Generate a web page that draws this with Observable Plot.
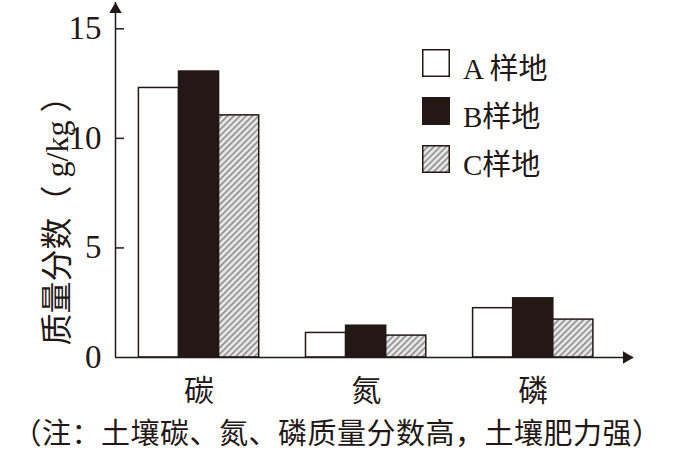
<!DOCTYPE html>
<html>
<head>
<meta charset="utf-8">
<script src="https://cdn.jsdelivr.net/npm/d3@7"></script>
<script src="https://cdn.jsdelivr.net/npm/@observablehq/plot@0.6"></script>
<style>
  body { margin: 0; background: #fff; }
  #wrap { position: relative; width: 674px; height: 451px; overflow: hidden; background: #fff; }
  #legend { position: absolute; left: 422px; top: 49px; color: #231815;
            font-family: "Liberation Serif", "Noto Sans CJK SC", serif; font-size: 29px; }
  #legend .row { display: flex; align-items: center; height: 28px; margin-bottom: 20px; white-space: pre; }
  #legend svg { display: block; margin-right: 13px; }
  #legend span { position: relative; top: 3px; }
  #note { position: absolute; left: 0; top: 414px; width: 674px; text-align: center; color: #231815;
          font-family: "Noto Sans CJK SC", sans-serif; font-size: 29px; line-height: 34px; letter-spacing: 0.5px; white-space: nowrap; }
</style>
</head>
<body>
<svg width="0" height="0" style="position:absolute">
  <defs>
    <pattern id="hatch" patternUnits="userSpaceOnUse" width="4.4" height="4.4" patternTransform="rotate(45)">
      <rect width="4.4" height="4.4" fill="#e6e6e6"></rect>
      <rect width="1.6" height="4.4" fill="#909090"></rect>
    </pattern>
  </defs>
</svg>
<div id="wrap"></div>
<script>
// ---- data ----
const categories = ["碳", "氮", "磷"];
const samples = ["A 样地", "B样地", "C样地"];
const valuesA = [12.3, 1.12, 2.25];
const valuesB = [13.05, 1.45, 2.7];
const valuesC = [11.05, 1.0, 1.73];
const yTicks = [0, 5, 10, 15];
const yLabel = "质量分数（ g/kg ）";
const note = "（注：土壤碳、氮、磷质量分数高，土壤肥力强）";

// ---- styling ----
const ink = "#231815";
const fills = ["#ffffff", ink, "url(#hatch)"];
const BAR = 0.24;
const xDomain = [-0.5, 2.6];
const yDomain = [0, 16.2];
const serif = "Liberation Serif, Noto Sans CJK SC, serif";
const cjk = "Noto Sans CJK SC, sans-serif";

const seriesValues = [valuesA, valuesB, valuesC];
const data = categories.flatMap((c, gi) =>
  samples.map((s, si) => ({category: c, gi, sample: s, si, value: seriesValues[si][gi]}))
);

const chart = Plot.plot({
  width: 674,
  height: 413,
  marginLeft: 115,
  marginRight: 41,
  marginTop: 2,
  marginBottom: 56,
  x: {domain: xDomain, label: null},
  y: {domain: yDomain, label: null},
  color: {domain: samples, range: fills},
  style: {fontFamily: serif, color: ink, background: "#fff"},
  marks: [
    Plot.rectY(data, {
      x1: d => d.gi + (d.si - 1.5) * BAR,
      x2: d => d.gi + (d.si - 0.5) * BAR,
      y: "value",
      fill: "sample",
      stroke: ink,
      strokeWidth: 1.5
    }),
    // axes lines
    Plot.ruleX([xDomain[0]], {stroke: ink, strokeWidth: 1.5}),
    Plot.ruleY([0], {stroke: ink, strokeWidth: 1.5}),
    // arrowheads
    Plot.dot([{x: xDomain[0], y: yDomain[1]}], {x: "x", y: "y", dy: 7, symbol: "triangle", r: 4.6, fill: ink, stroke: null}),
    Plot.dot([{x: xDomain[1], y: 0}], {x: "x", y: "y", dx: -7, symbol: "triangle", rotate: 90, r: 4.6, fill: ink, stroke: null}),
    // y ticks (inward) and labels
    Plot.axisY({ticks: yTicks.filter(t => t > 0), tickSize: -9, tickFormat: () => "", stroke: ink, strokeWidth: 1.5, label: null}),
    Plot.axisY({ticks: yTicks, tickSize: 0, tickPadding: 14, fontSize: 33, fontFamily: serif, fill: ink, label: null}),
    // x labels
    Plot.axisX({ticks: [0, 1, 2], tickFormat: i => categories[i], tickSize: 0, tickPadding: 22, fontSize: 30, fontFamily: cjk, fill: ink, label: null}),
    // y axis title
    Plot.text([yLabel], {frameAnchor: "left", textAnchor: "middle", dx: -58, dy: 33, rotate: -90, fontSize: 32, fontFamily: serif, fill: ink})
  ]
});

const wrap = document.getElementById("wrap");
wrap.appendChild(chart);

// legend
const legend = d3.select(wrap).append("div").attr("id", "legend");
samples.forEach((s, i) => {
  const row = legend.append("div").attr("class", "row");
  const sv = row.append("svg").attr("width", 28).attr("height", 28);
  sv.append("rect").attr("x", 0.75).attr("y", 0.75).attr("width", 26.5).attr("height", 26.5)
    .attr("fill", fills[i]).attr("stroke", ink).attr("stroke-width", 1.5);
  row.append("span").text(s);
});

d3.select(wrap).append("div").attr("id", "note").text(note);
</script>
</body>
</html>
